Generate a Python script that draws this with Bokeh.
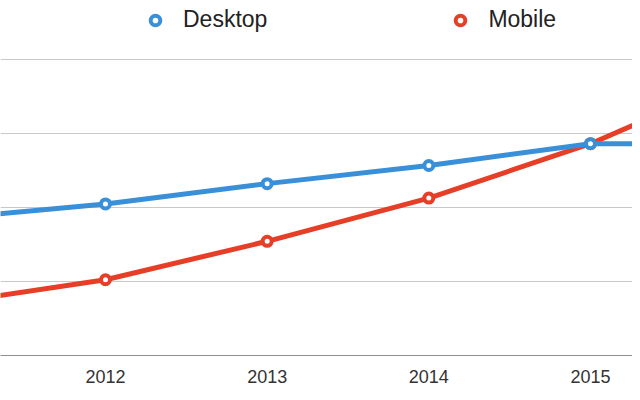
from bokeh.plotting import figure
from bokeh.models import Range1d, FixedTicker, Grid, Legend, LegendItem
from bokeh.embed import file_html
from bokeh.resources import INLINE

years = [2011, 2012, 2013, 2014, 2015, 2016]
desktop = [36.9, 41.0, 46.5, 51.4, 57.3, 57.3]
mobile = [14.0, 20.5, 30.9, 42.6, 57.3, 76.2]
tick_years = [2012, 2013, 2014, 2015]
tick_labels = ["2012", "2013", "2014", "2015"]
grid_values = [0, 20, 40, 60, 80]

BLUE = "#3A8FD9"
RED = "#E63E27"

p = figure(width=632, height=392, output_backend="svg", toolbar_location=None,
           x_range=Range1d(2011.3506, 2015.2597), y_range=Range1d(0, 96.05),
           y_axis_location=None, min_border_left=0, min_border_right=0,
           min_border_top=0, min_border_bottom=37)
p.outline_line_color = None
p.xgrid.visible = False
p.ygrid.visible = False
p.background_fill_color = "white"

g = Grid(dimension=1, ticker=FixedTicker(ticks=grid_values),
         grid_line_color="#c9c9c9", grid_line_width=1)
p.add_layout(g)

ax = p.xaxis[0]
ax.ticker = FixedTicker(ticks=tick_years)
ax.major_label_overrides = {y: l for y, l in zip(tick_years, tick_labels)}
ax.axis_line_color = "#8e8e8e"
ax.axis_line_width = 1
ax.major_tick_line_color = None
ax.minor_tick_line_color = None
ax.major_tick_out = 0
ax.major_label_standoff = 14
ax.major_label_text_font = "Liberation Sans"
ax.major_label_text_font_size = "18px"
ax.major_label_text_color = "#333333"

ml = p.line(years, mobile, line_color=RED, line_width=5)
ms = p.scatter(years, mobile, size=9, fill_color="white", line_color=RED, line_width=4)
dl = p.line(years, desktop, line_color=BLUE, line_width=5)
ds = p.scatter(years, desktop, size=9, fill_color="white", line_color=BLUE, line_width=4)

legend = Legend(items=[LegendItem(label="Desktop", renderers=[ds]),
                       LegendItem(label="Mobile", renderers=[ms])],
                orientation="horizontal", location=(143, 322),
                padding=0, margin=0, spacing=181, label_standoff=16,
                glyph_width=24, glyph_height=24, label_height=24,
                label_text_font="Liberation Sans", label_text_font_size="23px",
                label_text_color="#222222", background_fill_alpha=0,
                border_line_alpha=0)
p.add_layout(legend)

open("out.html", "w").write(file_html(p, INLINE))
